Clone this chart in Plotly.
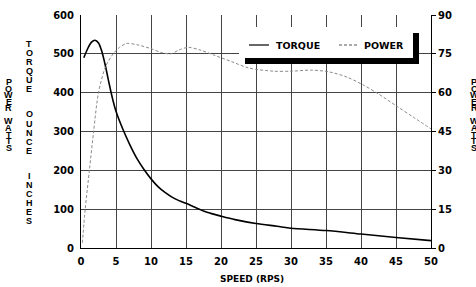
import plotly.graph_objects as go

# ---------------- data ----------------
speed_t = [0.4, 1.0, 1.5, 2.0, 2.5, 3.0, 3.5, 4.0, 4.5, 5, 6, 7, 8, 9, 10, 11, 12, 13, 14, 15,
           16, 17, 18, 20, 22, 25, 28, 30, 35, 40, 45, 50]
torque = [490, 515, 530, 535, 528, 505, 468, 425, 385, 352, 305, 265, 230, 202, 178, 158, 143, 131, 122, 115,
          107, 99, 92, 82, 73, 63, 56, 51, 45, 36, 27, 19]

speed_p = [0.2, 0.6, 1.2, 1.8, 2.5, 3.5, 4.6, 5.5, 6.5, 8, 10, 11.5, 12.8, 14, 15.3, 17, 19, 21.5,
           24, 27.5, 30, 33, 35.5, 38, 40.3, 42.5, 45.2, 47.5, 50]
power = [2, 15, 30, 45, 60, 70, 75, 77.5, 79, 78.5, 77, 75.5, 75, 76.5, 77.5, 76.5, 74.5, 72,
         69.5, 68.3, 68.3, 68.7, 68, 66, 63, 59.5, 54.6, 50.5, 46]

x_ticks = [0, 5, 10, 15, 20, 25, 30, 35, 40, 45, 50]
y_left_ticks = [0, 100, 200, 300, 400, 500, 600]
y_right_ticks = [0, 15, 30, 45, 60, 75, 90]

x_title = "SPEED (RPS)"
left_title_outer = ["POWER", "WATTS"]
left_title_inner = ["TORQUE", "OUNCE", "INCHES"]
legend_names = ["TORQUE", "POWER"]

# ---------------- layout geometry ----------------
W, H = 476, 287
ML, MR, MT, MB = 81, 45, 15, 39
PW, PH = W - ML - MR, H - MT - MB


def px(x):
    return (x - ML) / PW


def py(y):
    return (H - MB - y) / PH


FONT = "DejaVu Sans"
HFONT = "Liberation Sans"

fig = go.Figure()
fig.add_trace(go.Scatter(x=speed_t, y=torque, mode="lines", name=legend_names[0],
                         line=dict(color="black", width=1.6, shape="spline", smoothing=0.8),
                         yaxis="y"))
fig.add_trace(go.Scatter(x=speed_p, y=power, mode="lines", name=legend_names[1],
                         line=dict(color="#8a8a8a", width=1, dash="3px,2px", shape="spline", smoothing=0.8),
                         yaxis="y2"))

tick_font = dict(family=FONT, size=10, color="black", weight="bold")

fig.update_layout(
    width=W, height=H, margin=dict(l=ML, r=MR, t=MT, b=MB, autoexpand=False),
    paper_bgcolor="white", plot_bgcolor="white", showlegend=False,
    xaxis=dict(range=[0, 50], tickvals=x_ticks, ticktext=[str(v) for v in x_ticks],
               showgrid=True, gridcolor="#444", gridwidth=1, zeroline=False,
               showline=True, linecolor="black", linewidth=1, ticks="",
               tickfont=tick_font, ticklabelstandoff=4),
    yaxis=dict(range=[0, 600], tickvals=y_left_ticks, ticktext=[str(v) for v in y_left_ticks],
               showgrid=True, gridcolor="#444", gridwidth=1, zeroline=False,
               showline=True, linecolor="black", linewidth=1, ticks="",
               tickfont=tick_font, ticklabelstandoff=4),
    yaxis2=dict(range=[0, 90], tickvals=y_right_ticks, ticktext=[str(v) for v in y_right_ticks],
                overlaying="y", side="right", showgrid=False, zeroline=False,
                showline=True, linecolor="black", linewidth=1, ticks="outside", ticklen=4,
                tickcolor="black", tickfont=tick_font),
)

# x axis title
fig.add_annotation(text=x_title, xref="paper", yref="paper", x=px(252), y=py(279),
                   showarrow=False, xanchor="center", yanchor="middle",
                   font=dict(family=FONT, size=9, color="black", weight="bold"))

letter_font = dict(family=HFONT, size=9, color="black", weight="bold")


def vertical_words(words, xc, y0, step, gap):
    y = y0
    for wi, word in enumerate(words):
        for ch in word:
            fig.add_annotation(text=ch, xref="paper", yref="paper", x=px(xc), y=py(y),
                               showarrow=False, xanchor="center", yanchor="middle",
                               font=letter_font, borderpad=0)
            y += step
        y += gap


vertical_words(left_title_outer, 8.5, 82, 6.6, 6.5)
vertical_words(left_title_inner, 29, 44, 9, 16.5)
vertical_words(left_title_outer, 474, 82, 6.6, 6.5)

# legend box with drop shadow
shapes = [
    dict(type="rect", xref="paper", yref="paper", x0=px(245), x1=px(419), y0=py(64), y1=py(33),
         fillcolor="black", line=dict(width=0), layer="above"),
    dict(type="rect", xref="paper", yref="paper", x0=px(239), x1=px(413), y0=py(58), y1=py(27),
         fillcolor="white", line=dict(width=0), layer="above"),
    dict(type="line", xref="paper", yref="paper", x0=px(249), x1=px(269), y0=py(45), y1=py(45),
         line=dict(color="black", width=1.2), layer="above"),
    dict(type="line", xref="paper", yref="paper", x0=px(339), x1=px(359), y0=py(45), y1=py(45),
         line=dict(color="#555", width=1, dash="3px,2px"), layer="above"),
]
fig.update_layout(shapes=shapes)
leg_font = dict(family=FONT, size=9.5, color="black", weight="bold")
fig.add_annotation(text=legend_names[0], xref="paper", yref="paper", x=px(274), y=py(45),
                   showarrow=False, xanchor="left", yanchor="middle", font=leg_font)
fig.add_annotation(text=legend_names[1], xref="paper", yref="paper", x=px(362), y=py(45),
                   showarrow=False, xanchor="left", yanchor="middle", font=leg_font)

fig.write_html("out.html", config={"displayModeBar": False},
               post_script="document.body.style.margin='0';document.body.style.overflow='hidden';")
